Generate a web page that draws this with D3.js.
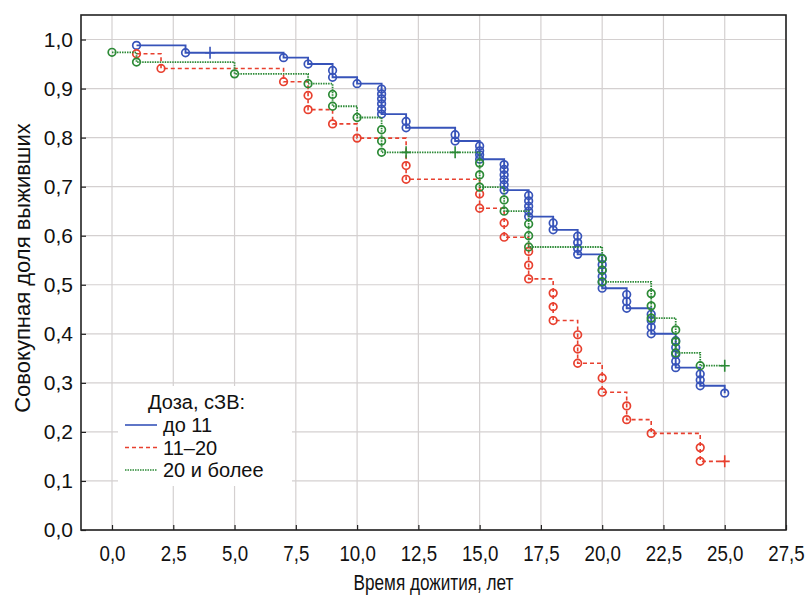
<!DOCTYPE html>
<html><head><meta charset="utf-8">
<script src="https://cdn.jsdelivr.net/npm/d3@7"></script>
<style>body{margin:0;background:#fff;} text{font-family:"Liberation Sans",Arial,sans-serif;}</style>
</head><body>
<svg id="chart" width="806" height="595"></svg>
<script>
// ---- data ----
const xTicks = [0,2.5,5,7.5,10,12.5,15,17.5,20,22.5,25,27.5];
const yTicks = [0,0.1,0.2,0.3,0.4,0.5,0.6,0.7,0.8,0.9,1.0];
const seriesNames = ["до 11","11–20","20 и более"];
const legendTitle = "Доза, сЗВ:";

const blueT = [1,3,7,8,9,9,10,11,11,11,11,11,11,12,12,14,14,15,15,15,15,16,16,16,16,16,16,17,17,17,17,17,18,18,19,19,19,19,20,20,20,20,20,20,21,21,21,22,22,22,22,23,23,23,23,23,24,24,24,25];
const blueS = [0.988,0.973,0.963,0.950,0.937,0.923,0.910,0.899,0.889,0.879,0.869,0.858,0.848,0.833,0.820,0.806,0.793,0.783,0.773,0.765,0.756,0.745,0.735,0.724,0.714,0.704,0.693,0.682,0.671,0.660,0.650,0.639,0.626,0.612,0.599,0.586,0.574,0.562,0.553,0.541,0.529,0.517,0.505,0.493,0.480,0.466,0.452,0.440,0.427,0.414,0.400,0.386,0.372,0.358,0.344,0.331,0.318,0.306,0.294,0.279];
const blueCensT = [4];
const blueCensS = [0.973];

const redT = [1,2,7,8,8,9,10,12,12,15,15,16,16,17,17,17,18,18,18,19,19,19,20,20,21,21,22,24,24];
const redS = [0.971,0.941,0.914,0.886,0.857,0.828,0.799,0.743,0.715,0.685,0.656,0.626,0.597,0.568,0.540,0.512,0.483,0.455,0.427,0.398,0.369,0.340,0.310,0.281,0.253,0.225,0.197,0.168,0.140];
const redCensT = [25];
const redCensS = [0.140];

const greenT = [0,1,5,8,9,9,10,11,11,11,15,15,15,16,16,17,17,17,20,20,20,22,22,22,23,23,23,24];
const greenS = [0.974,0.954,0.930,0.910,0.888,0.864,0.841,0.816,0.793,0.770,0.748,0.724,0.699,0.673,0.650,0.624,0.600,0.577,0.553,0.530,0.506,0.482,0.457,0.432,0.408,0.384,0.361,0.335];
const greenCensT = [12,14,25];
const greenCensS = [0.770,0.770,0.335];

// ---- layout ----
const svg = d3.select("#chart");
const L = 81, R = 786, T = 15, B = 530;
const x = d3.scaleLinear().domain([-1.265, 27.5]).range([L, R]);
const y = d3.scaleLinear().domain([0, 1.05]).range([B, T]);
const fmt = v => d3.format(".1f")(v).replace(".", ",");

// grid
svg.append("g").selectAll("line").data(xTicks).join("line")
  .attr("x1", d => x(d)).attr("x2", d => x(d)).attr("y1", T).attr("y2", B)
  .attr("stroke", "#d4d0d0").attr("stroke-width", 1.2);
svg.append("g").selectAll("line").data(yTicks).join("line")
  .attr("x1", L).attr("x2", R).attr("y1", d => y(d)).attr("y2", d => y(d))
  .attr("stroke", "#d4d0d0").attr("stroke-width", 1.2);

// axes
const xAxis = d3.axisBottom(x).tickValues(xTicks).tickFormat(fmt).tickSize(-5).tickPadding(15);
const yAxis = d3.axisLeft(y).tickValues(yTicks).tickFormat(fmt).tickSize(-5).tickPadding(8);
const gx = svg.append("g").attr("transform", `translate(0,${B})`).call(xAxis);
const gy = svg.append("g").attr("transform", `translate(${L},0)`).call(yAxis);
[gx, gy].forEach(g => {
  g.select(".domain").remove();
  g.selectAll(".tick line").attr("stroke", "#222").attr("stroke-width", 1.2);
  g.selectAll(".tick text").attr("fill", "#111");
});
gy.selectAll(".tick text").style("font-size", "21px");
gx.selectAll(".tick text").style("font-size", "22px").attr("transform", "scale(0.85,1)");

// frame
svg.append("rect").attr("x", L).attr("y", T).attr("width", R - L).attr("height", B - T)
  .attr("fill", "none").attr("stroke", "#222").attr("stroke-width", 1.6);

// titles
svg.append("g").attr("transform", `translate(${(L + R) / 2},590)`)
  .append("text").attr("text-anchor", "middle").attr("transform", "scale(0.78,1)")
  .style("font-size", "22px").attr("fill", "#111").text("Время дожития, лет");
svg.append("text").attr("transform", `translate(30,268) rotate(-90)`)
  .attr("text-anchor", "middle").style("font-size", "22px").attr("fill", "#111")
  .text("Совокупная доля выживших");

// series
const series = [
  {t: blueT, s: blueS, ct: blueCensT, cs: blueCensS, color: "#3753b9", dash: null, w: 1.9},
  {t: redT, s: redS, ct: redCensT, cs: redCensS, color: "#e8402f", dash: "4,3", w: 1.6},
  {t: greenT, s: greenS, ct: greenCensT, cs: greenCensS, color: "#2c8a36", dash: "1.5,1", w: 1.8}
];
const line = d3.line().x(d => x(d[0])).y(d => y(d[1])).curve(d3.curveStepAfter);

series.forEach(sr => {
  const ev = sr.t.map((t, i) => [t, sr.s[i], "e"]);
  const ce = sr.ct.map((t, i) => [t, sr.cs[i], "c"]);
  const all = ev.concat(ce).sort((a, b) => a[0] - b[0] || b[1] - a[1]);
  const g = svg.append("g");
  g.append("path").attr("d", line(all)).attr("fill", "none")
    .attr("stroke", sr.color).attr("stroke-width", sr.w)
    .attr("stroke-dasharray", sr.dash);
  g.selectAll("circle").data(ev).join("circle")
    .attr("cx", d => x(d[0])).attr("cy", d => y(d[1])).attr("r", 3.8)
    .attr("fill", "none").attr("stroke", sr.color).attr("stroke-width", 1.7);
  ce.forEach(d => {
    g.append("path")
      .attr("d", `M${x(d[0]) - 5},${y(d[1])}H${x(d[0]) + 5}M${x(d[0])},${y(d[1]) - 6}V${y(d[1]) + 6}`)
      .attr("stroke", sr.color).attr("stroke-width", 1.6);
  });
});

// legend
const lg = svg.append("g");
lg.append("rect").attr("x", 118).attr("y", 386).attr("width", 174).attr("height", 100).attr("fill", "#fff");
lg.append("text").attr("x", 148).attr("y", 409).style("font-size", "20px").attr("fill", "#111").text(legendTitle);
seriesNames.forEach((n, i) => {
  const yy = 425 + i * 22.5;
  lg.append("line").attr("x1", 125).attr("x2", 157).attr("y1", yy).attr("y2", yy)
    .attr("stroke", series[i].color).attr("stroke-width", 1.6)
    .attr("stroke-dasharray", series[i].dash);
  lg.append("text").attr("x", 163).attr("y", yy + 7).style("font-size", "20px").attr("fill", "#111").text(n);
});
</script>
</body></html>
